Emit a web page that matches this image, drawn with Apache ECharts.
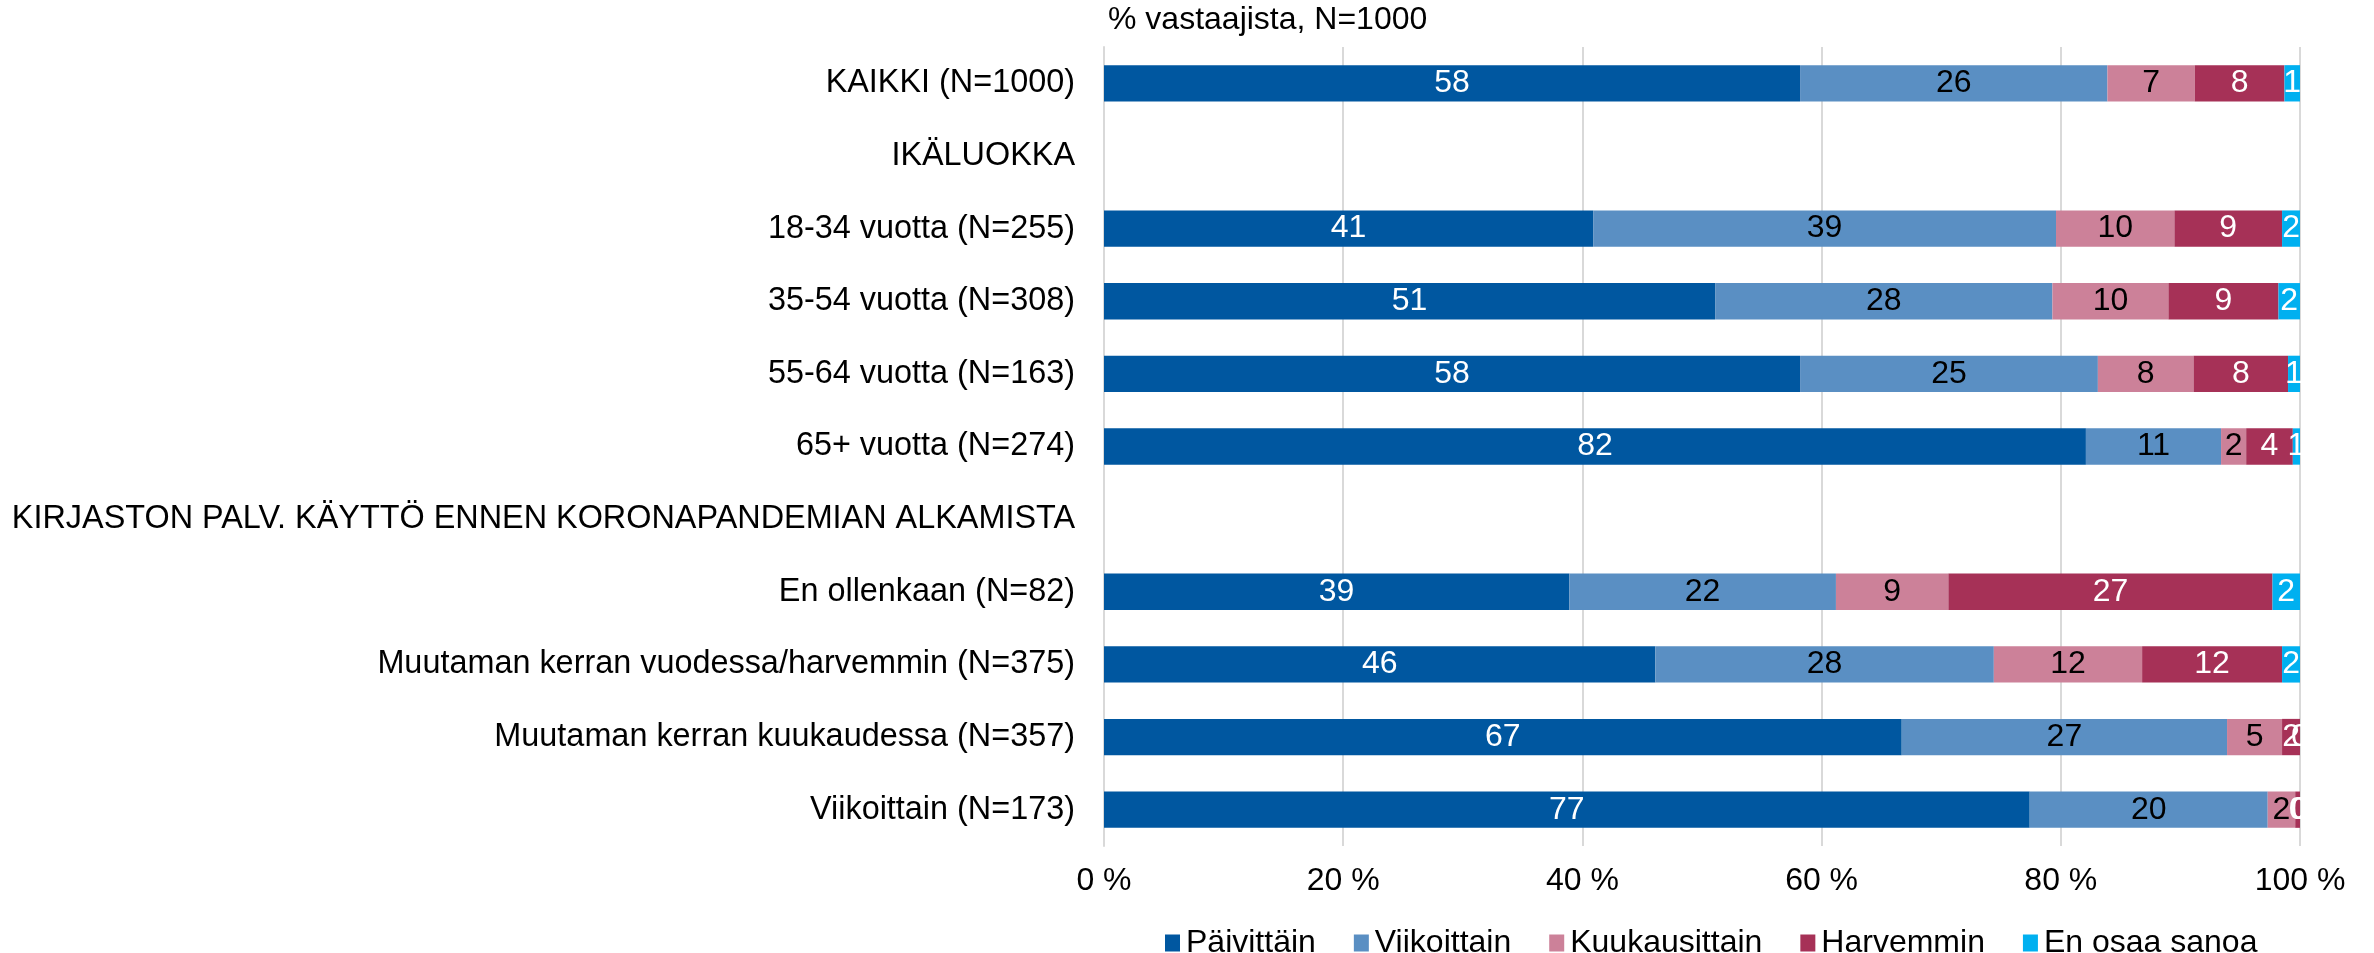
<!DOCTYPE html>
<html>
<head>
<meta charset="utf-8">
<script src="https://cdn.jsdelivr.net/npm/echarts@6/dist/echarts.min.js"></script>
<style>
html,body{margin:0;padding:0;background:#fff;}
#chart{width:2374px;height:953px;}
</style>
</head>
<body>
<div id="chart"></div>
<script>
const categories = [
  'KAIKKI (N=1000)',
  'IKÄLUOKKA',
  '18-34 vuotta (N=255)',
  '35-54 vuotta (N=308)',
  '55-64 vuotta (N=163)',
  '65+ vuotta (N=274)',
  'KIRJASTON PALV. KÄYTTÖ ENNEN KORONAPANDEMIAN ALKAMISTA',
  'En ollenkaan (N=82)',
  'Muutaman kerran vuodessa/harvemmin (N=375)',
  'Muutaman kerran kuukaudessa (N=357)',
  'Viikoittain (N=173)'
];
const seriesNames = ['Päivittäin', 'Viikoittain', 'Kuukausittain', 'Harvemmin', 'En osaa sanoa'];
const paivittain   = [58.2, '-', 40.9, 51.1, 58.2, 82.1, '-', 38.9, 46.1, 66.7, 77.4];
const viikoittain  = [25.7, '-', 38.7, 28.2, 24.9, 11.3, '-', 22.3, 28.3, 27.2, 19.9];
const kuukausittain= [7.3,  '-', 9.9,  9.7,  8.0,  2.1,  '-', 9.4,  12.4, 4.6,  2.3];
const harvemmin    = [7.5,  '-', 9.0,  9.2,  7.9,  3.9,  '-', 27.1, 11.7, 1.5,  0.4];
const enOsaaSanoa  = [1.3,  '-', 1.5,  1.8,  1.0,  0.6,  '-', 2.3,  1.5,  0,    0];
const xTicks = [0, 20, 40, 60, 80, 100];

const seriesData = [paivittain, viikoittain, kuukausittain, harvemmin, enOsaaSanoa];
const colors = ['#0057A0', '#5A8FC3', '#CC8199', '#A63157', '#00B0F0'];
const labelColors = ['#ffffff', '#000000', '#000000', '#ffffff', '#ffffff'];
const FONT = 'Liberation Sans, Arial, sans-serif';

const chart = echarts.init(document.getElementById('chart'));
chart.setOption({
  animation: false,
  color: colors,
  title: {
    text: '% vastaajista, N=1000',
    left: 1108, top: 4, padding: 0,
    textStyle: {fontFamily: FONT, fontSize: 32, fontWeight: 'normal', color: '#000'}
  },
  legend: {
    data: seriesNames,
    left: 1160, top: 922,
    itemWidth: 15, itemHeight: 17, itemGap: 38,
    icon: 'rect',
    textStyle: {fontFamily: FONT, fontSize: 32, color: '#000', padding: [0, 0, 0, 1]}
  },
  grid: {left: 1104, right: 74, top: 47, bottom: 107, containLabel: false},
  xAxis: {
    type: 'value', min: xTicks[0], max: xTicks[xTicks.length - 1], interval: 20,
    axisLine: {show: false}, axisTick: {show: false},
    splitLine: {show: true, lineStyle: {color: '#D9D9D9', width: 2}},
    axisLabel: {formatter: '{value} %', margin: 19, fontFamily: FONT, fontSize: 32, color: '#000'}
  },
  yAxis: {
    type: 'category', data: categories, inverse: true,
    axisTick: {show: false},
    axisLine: {show: true, lineStyle: {color: '#D9D9D9', width: 2}},
    axisLabel: {margin: 29, fontFamily: FONT, fontSize: 32.4, color: '#000'}
  },
  series: seriesNames.map((name, i) => ({
    name: name, type: 'bar', stack: 'total', barWidth: '50%',
    data: seriesData[i],
    itemStyle: {color: colors[i]},
    label: {
      show: true, position: 'inside',
      fontFamily: FONT, fontSize: 32, color: labelColors[i],
      formatter: p => (typeof p.value === 'number') ? String(Math.round(p.value)) : ''
    }
  }))
});
</script>
</body>
</html>
